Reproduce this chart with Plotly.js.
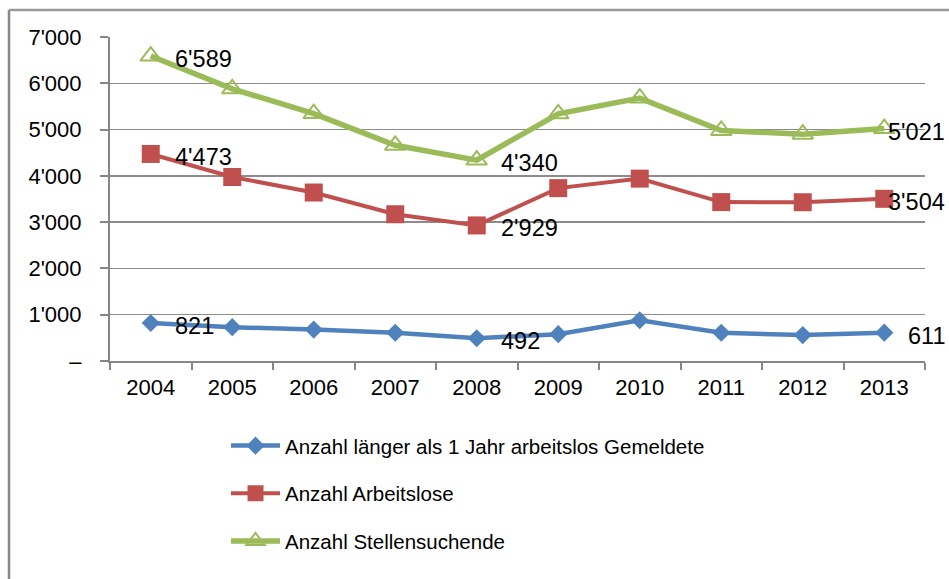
<!DOCTYPE html>
<html>
<head>
<meta charset="utf-8">
<script src="https://cdn.plot.ly/plotly-3.0.1.min.js"></script>
<style>html,body{margin:0;padding:0;background:#fff;}#chart{width:949px;height:579px;}</style>
</head>
<body>
<div id="chart"></div>
<script>
const years = ['2004','2005','2006','2007','2008','2009','2010','2011','2012','2013'];
const langzeit = [821, 730, 680, 610, 492, 580, 880, 610, 560, 611];
const arbeitslose = [4473, 3975, 3640, 3170, 2929, 3735, 3940, 3433, 3430, 3504];
const stellensuchende = [6589, 5880, 5345, 4660, 4340, 5340, 5680, 4980, 4900, 5021];
const seriesNames = ['Anzahl länger als 1 Jahr arbeitslos Gemeldete', 'Anzahl Arbeitslose', 'Anzahl Stellensuchende'];
const yTickVals = [0, 1000, 2000, 3000, 4000, 5000, 6000, 7000];
const yTickText = ['–', "1'000", "2'000", "3'000", "4'000", "5'000", "6'000", "7'000"];
const labelIdx = [0, 4, 9];

function fmt(v){ const s = String(v); return s.length > 3 ? s.slice(0, s.length-3) + "'" + s.slice(-3) : s; }

const FONT = 'Liberation Sans, Arial, sans-serif';
const colors = ['#4F81BD', '#C0504D', '#9BBB59'];
const allSeries = [langzeit, arbeitslose, stellensuchende];

const traces = [
  {
    x: years, y: langzeit, name: seriesNames[0], legendgroup: 'a',
    mode: 'lines+markers',
    line: {color: colors[0], width: 4.5},
    marker: {symbol: 'diamond', size: 14, color: colors[0]}
  },
  {
    x: years, y: arbeitslose, name: seriesNames[1], legendgroup: 'b',
    mode: 'lines+markers',
    line: {color: colors[1], width: 4},
    marker: {symbol: 'square', size: 18, color: colors[1]}
  },
  {
    x: years, y: stellensuchende, name: seriesNames[2], legendgroup: 'c',
    mode: 'lines+markers',
    line: {color: colors[2], width: 5.5},
    marker: {symbol: 'triangle-up-open', size: 18, color: colors[2], line: {width: 2, color: colors[2]}}
  }
];

// Data labels at first, 2008 and last points, positioned through the axes
const annotations = [];
allSeries.forEach((arr) => {
  labelIdx.forEach(i => {
    const last = i === years.length - 1;
    annotations.push({
      x: i, y: arr[i], xref: 'x', yref: 'y',
      text: fmt(arr[i]), showarrow: false,
      font: {family: FONT, size: 23.5, color: '#000'},
      xanchor: last ? 'right' : 'left',
      yanchor: 'middle',
      xshift: last ? 63 : 22,
      yshift: -3
    });
  });
});

const layout = {
  width: 949, height: 579,
  margin: {l: 110, r: 24, t: 37, b: 218},
  paper_bgcolor: '#fff', plot_bgcolor: '#fff',
  font: {family: FONT, size: 21, color: '#000'},
  showlegend: true,
  legend: {
    x: (226-110)/815, xanchor: 'left', y: -0.2, yanchor: 'top',
    orientation: 'v', tracegroupgap: 18, itemwidth: 49,
    font: {family: FONT, size: 20.5, color: '#000'},
    bgcolor: 'rgba(0,0,0,0)'
  },
  xaxis: {
    type: 'category', range: [-0.5, 9.5],
    showline: true, linecolor: '#868686', linewidth: 2,
    ticks: 'outside', tickson: 'boundaries', ticklen: 7, tickcolor: '#868686', tickwidth: 2,
    showgrid: false, zeroline: false,
    tickfont: {family: FONT, size: 22, color: '#000'},
    ticklabelstandoff: 6
  },
  yaxis: {
    range: [0, 7000], tickvals: yTickVals, ticktext: yTickText,
    showline: true, linecolor: '#868686', linewidth: 2,
    ticks: 'outside', ticklen: 8, tickcolor: '#868686', tickwidth: 2,
    showgrid: true, gridcolor: '#8c8c8c', gridwidth: 1.5, zeroline: false,
    tickfont: {family: FONT, size: 22, color: '#000'},
    ticklabelstandoff: 14
  },
  annotations: annotations,
  shapes: [
    {type: 'line', xref: 'paper', yref: 'paper', x0: (9-110)/815, x1: (9-110)/815, y0: 1 + 27/324, y1: -(579-361)/324 - 0.05, line: {color: '#888', width: 2.5}},
    {type: 'line', xref: 'paper', yref: 'paper', x0: (9-110)/815, x1: (960-110)/815, y0: 1 + 27/324, y1: 1 + 27/324, line: {color: '#999', width: 2.5}}
  ]
};

Plotly.newPlot('chart', traces, layout, {staticPlot: true, displayModeBar: false});
</script>
</body>
</html>
